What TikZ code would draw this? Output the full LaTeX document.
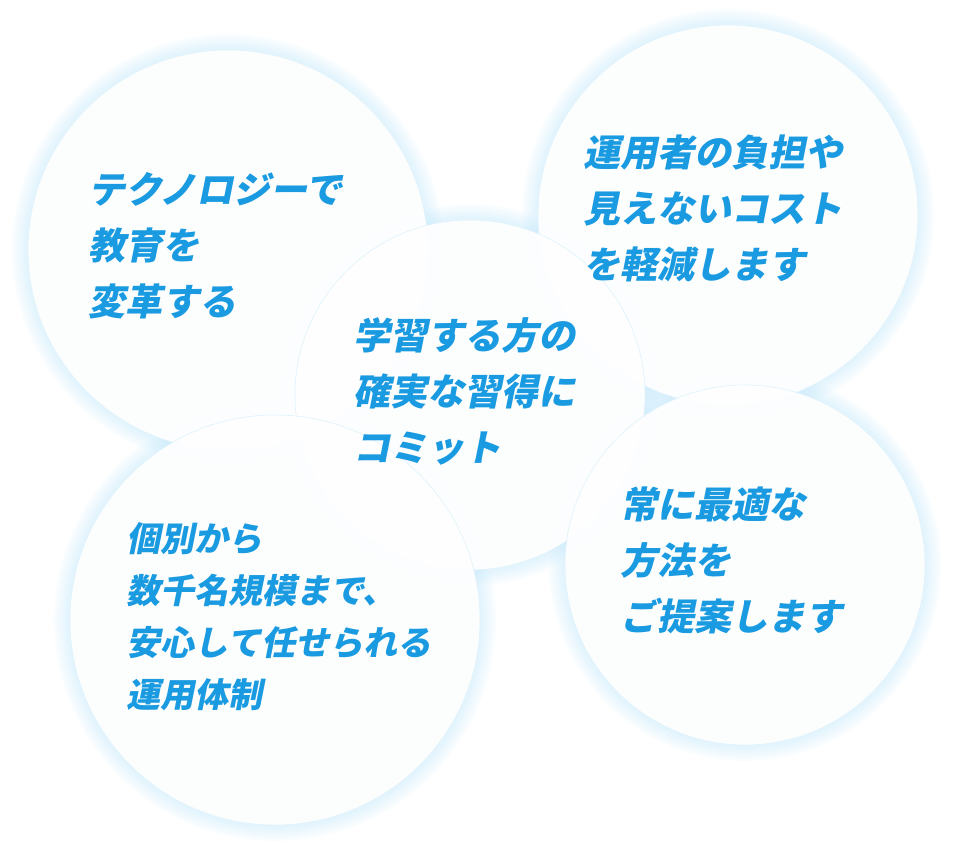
\documentclass[tikz,border=0pt]{standalone}
\usepackage{fontspec}
\newfontfamily\jpfont[FakeSlant=0.2]{Noto Sans CJK JP}
\definecolor{txtblue}{HTML}{1A9AE0}
\definecolor{glowblue}{HTML}{BFE6FA}
\tikzset{
  bubble/.style={circle, fill=white, fill opacity=0.93, draw=glowblue!50, line width=0.6pt},
  msg/.style={anchor=north west, align=left, text=txtblue,
    font=\jpfont\bfseries\fontsize{37}{56}\selectfont, inner sep=0pt}
}
\newcommand\glow[3]{% x, y, radius
  \foreach \g in {1,...,8}
    \fill[glowblue, opacity=0.07] (#1,#2) circle ({#3+2*\g});
}
\begin{document}
\begin{tikzpicture}[x=1pt,y=-1pt]
    \useasboundingbox (0,0) rectangle (963,864);
    % glows
    \glow{228}{250}{200}
    \glow{728}{215}{190}
    \glow{470}{395}{175}
    \glow{275}{620}{205}
    \glow{745}{565}{180}
    % circles
    \node[bubble, minimum size=400pt] (techc) at (228,250) {};
    \node[bubble, minimum size=380pt] (costc) at (728,215) {};
    \node[bubble, minimum size=350pt] (learnc) at (470,395) {};
    \node[bubble, minimum size=410pt] (scalec) at (275,620) {};
    \node[bubble, minimum size=360pt] (bestc) at (745,565) {};

    % texts
    \node[msg] (tech) at (88,172) {テクノロジーで\\教育を\\変革する};
    \node[msg] (cost) at (583,135) {運用者の負担や\\見えないコスト\\を軽減します};
    \node[msg] (learn) at (353,317) {学習する方の\\確実な習得に\\コミット};
    \node[msg, font=\jpfont\bfseries\fontsize{34}{52}\selectfont] (scale) at (126,522)
        {個別から\\数千名規模まで、\\安心して任せられる\\運用体制};
    \node[msg] (best) at (620,487) {常に最適な\\方法を\\ご提案します};
\end{tikzpicture}
\end{document}
